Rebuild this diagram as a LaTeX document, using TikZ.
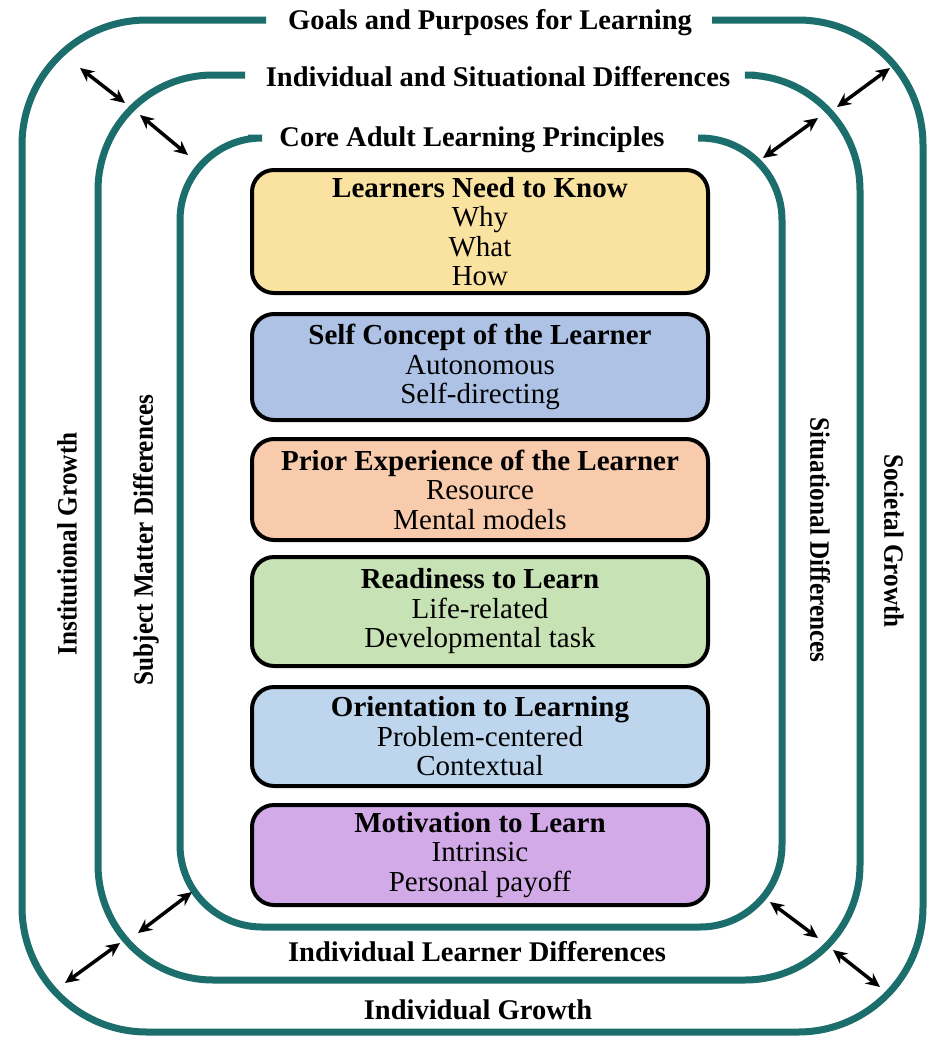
\documentclass[tikz,border=0pt]{standalone}
\usepackage{fontspec}
\setmainfont{Liberation Serif}
\usetikzlibrary{arrows.meta}
\definecolor{teal1}{HTML}{1B6E6B}
\definecolor{cyel}{HTML}{FAE2A0}
\definecolor{cblu}{HTML}{AEC2E6}
\definecolor{cpea}{HTML}{F7CBAC}
\definecolor{cgrn}{HTML}{C7E2B5}
\definecolor{clbl}{HTML}{BDD6EE}
\definecolor{cpur}{HTML}{D2AAE8}
\tikzset{
  loop/.style={draw=teal1, line width=7pt},
  heading/.style={font=\fontsize{28.5}{30}\selectfont\bfseries, inner sep=0pt},
  sidelabel/.style={font=\fontsize{28}{30}\selectfont\bfseries, inner sep=0pt},
  box/.style={draw=black, line width=4pt, rounded corners=22pt, align=center,
    minimum width=456pt, inner sep=0pt,
    font=\fontsize{29}{29.5}\selectfont},
  dbl/.style={{Stealth[length=14pt,width=13pt]}-{Stealth[length=14pt,width=13pt]}, line width=3.5pt, black}
}
\begin{document}
\begin{tikzpicture}[x=1pt,y=-1pt]
\fill[white] (0,0) rectangle (930,1037);
\useasboundingbox (0,0) rectangle (930,1037);

% loops
\draw[loop, rounded corners=125pt] (712,20) -- (923,20) -- (923,1032) -- (22,1032) -- (22,20) -- (266,20);
\draw[loop, rounded corners=115pt] (755,75) -- (860,75) -- (860,980) -- (98,980) -- (98,75) -- (245,75);
\draw[loop, rounded corners=82pt] (698,138) -- (782,138) -- (782,927) -- (180,927) -- (180,138) -- (248,138);

% headings
\node[heading] (goals) at (490,23) {Goals and Purposes for Learning};
\node[heading] (isd) at (498,77) {Individual and Situational Differences};
\node[heading] (core) at (472,140) {Core Adult Learning Principles};
\node[heading] (ild) at (477,952) {Individual Learner Differences};
\node[heading] (ig) at (478,1010) {Individual Growth};

% side labels
\node[sidelabel, rotate=90] (inst) at (67,544) {\scalebox{0.9}[1]{Institutional Growth}};
\node[sidelabel, rotate=90] (subj) at (146,540) {\scalebox{0.9}[1]{Subject Matter Differences}};
\node[sidelabel, rotate=-90] (sit) at (820,540) {\scalebox{0.9}[1]{Situational Differences}};
\node[sidelabel, rotate=-90] (soc) at (894,541) {\scalebox{0.9}[1]{Societal Growth}};

% boxes
\node[box, fill=cyel, minimum height=123pt] (b1) at (480,231.5) {\textbf{Learners Need to Know}\\Why\\What\\How};
\node[box, fill=cblu, minimum height=106pt] (b2) at (480,367) {\textbf{Self Concept of the Learner}\\Autonomous\\Self-directing};
\node[box, fill=cpea, minimum height=101pt] (b3) at (480,489.5) {\textbf{Prior Experience of the Learner}\\Resource\\Mental models};
\node[box, fill=cgrn, minimum height=109pt] (b4) at (480,611.5) {\textbf{Readiness to Learn}\\Life-related\\Developmental task};
\node[box, fill=clbl, minimum height=99pt] (b5) at (480,736.5) {\textbf{Orientation to Learning}\\Problem-centered\\Contextual};
\node[box, fill=cpur, minimum height=100pt] (b6) at (480,855) {\textbf{Motivation to Learn}\\Intrinsic\\Personal payoff};

% arrow end points
\coordinate (tl1a) at (80,68);   \coordinate (tl1b) at (125,103);
\coordinate (tl2a) at (140,115); \coordinate (tl2b) at (188,155);
\coordinate (tr1a) at (890,68);  \coordinate (tr1b) at (837,107);
\coordinate (tr2a) at (818,118); \coordinate (tr2b) at (763,158);
\coordinate (bl1a) at (192,892); \coordinate (bl1b) at (138,933);
\coordinate (bl2a) at (120,943); \coordinate (bl2b) at (65,983);
\coordinate (br1a) at (770,902); \coordinate (br1b) at (818,938);
\coordinate (br2a) at (833,950); \coordinate (br2b) at (880,987);

\draw[dbl] (tl1a) -- (tl1b);
\draw[dbl] (tl2a) -- (tl2b);
\draw[dbl] (tr1a) -- (tr1b);
\draw[dbl] (tr2a) -- (tr2b);
\draw[dbl] (bl1a) -- (bl1b);
\draw[dbl] (bl2a) -- (bl2b);
\draw[dbl] (br1a) -- (br1b);
\draw[dbl] (br2a) -- (br2b);
\end{tikzpicture}
\end{document}
